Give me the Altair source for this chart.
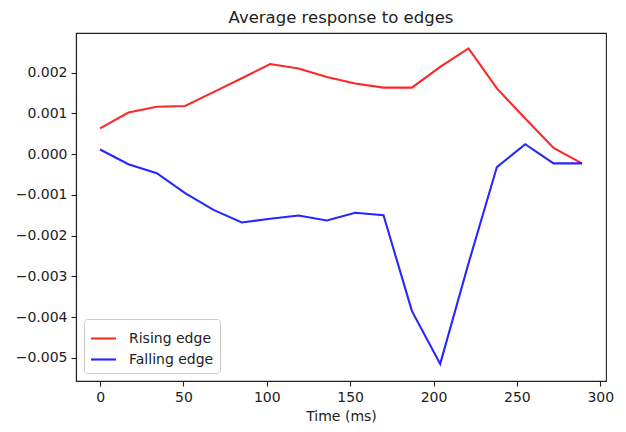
import altair as alt
import pandas as pd

time_ms = [0, 17, 34, 51, 68, 85, 102, 119, 136, 153, 170, 187, 204, 221, 238, 255, 272, 289]
rising = [0.00063, 0.00102, 0.00116, 0.00118, 0.00152, 0.00186, 0.00221, 0.00210, 0.00189,
          0.00173, 0.00163, 0.00163, 0.00214, 0.00259, 0.00161, 0.00087, 0.00015, -0.00023]
falling = [0.00011, -0.00025, -0.00047, -0.00096, -0.00137, -0.00168, -0.00159, -0.00151, -0.00163,
           -0.00144, -0.00150, -0.00385, -0.00515, -0.00268, -0.00032, 0.00024, -0.00023, -0.00023]
series_names = ["Rising edge", "Falling edge"]
x_ticks = [0, 50, 100, 150, 200, 250, 300]
y_ticks = [-0.005, -0.004, -0.003, -0.002, -0.001, 0.0, 0.001, 0.002]

rows = []
for i, t in enumerate(time_ms):
    rows.append({"t": t, "v": rising[i], "s": series_names[0], "o": 0})
    rows.append({"t": t, "v": falling[i], "s": series_names[1], "o": 1})
df = pd.DataFrame(rows)

FONT = "DejaVu Sans"
INK = "#222222"

chart = alt.Chart(df).mark_line(strokeWidth=2.1, opacity=0.85).encode(
    x=alt.X("t:Q", title="Time (ms)",
            scale=alt.Scale(domain=[-14.45, 303.45], nice=False, zero=False),
            axis=alt.Axis(values=x_ticks, format="d")),
    y=alt.Y("v:Q", title=None,
            scale=alt.Scale(domain=[-0.00557, 0.00297], nice=False, zero=False),
            axis=alt.Axis(values=y_ticks, format=".3f")),
    color=alt.Color("s:N", title=None,
                    scale=alt.Scale(domain=series_names, range=["#ff0000", "#0000ff"]),
                    legend=alt.Legend(orient="bottom-left", offset=8, padding=6,
                                      strokeColor="#cccccc", fillColor="white", cornerRadius=3,
                                      symbolType="stroke", symbolSize=620, symbolStrokeWidth=2.1,
                                      symbolOpacity=0.85,
                                      labelFontSize=14, labelFont=FONT, labelColor=INK,
                                      labelOffset=12, rowPadding=0)),
    order="o:Q",
    detail="s:N",
).properties(
    width=530, height=348,
    title=alt.TitleParams("Average response to edges", fontSize=16.5, fontWeight="normal",
                          font=FONT, color=INK, offset=7),
    autosize=alt.AutoSizeParams(type="none"),
    padding={"left": 68, "top": 25, "right": 12, "bottom": 42},
).configure_view(
    stroke=INK, strokeWidth=1.1
).configure_axis(
    grid=False, domain=True, domainColor=INK, domainWidth=1.1,
    tickSize=5, tickColor=INK, tickWidth=1.1,
    labelFontSize=14, labelFont=FONT, labelColor=INK, labelPadding=4,
    titleFontSize=14, titleFont=FONT, titleColor=INK, titleFontWeight="normal",
    titlePadding=5,
)

chart.save("out.html", embed_options={"renderer": "svg", "actions": False})
